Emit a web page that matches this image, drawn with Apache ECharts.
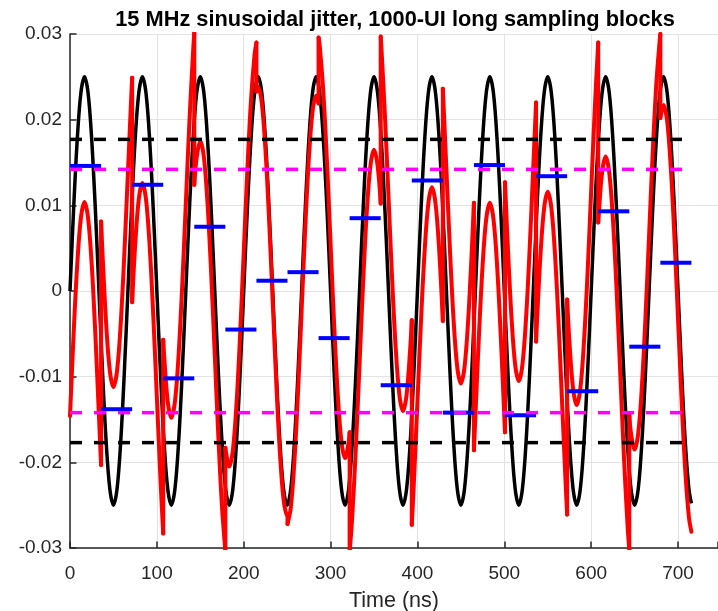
<!DOCTYPE html>
<html><head><meta charset="utf-8">
<script src="https://cdn.jsdelivr.net/npm/echarts@6/dist/echarts.min.js"></script>
<style>html,body{margin:0;padding:0;background:#fff}#c{width:718px;height:611px}</style>
</head><body><div id="c"></div>
<script>
const titleText = '15 MHz sinusoidal jitter, 1000-UI long sampling blocks';
const xAxisName = 'Time (ns)';
const xTickValues = [0, 100, 200, 300, 400, 500, 600, 700];

// sample spacing of the traces (ns)
const sampleStep = 4.166667;

// black: applied 15 MHz sinusoidal jitter (UI)
const sineWave = [
  0, 0.00957, 0.01768, 0.0231, 0.025, 0.0231, 0.01768, 0.00957, 0, -0.00957, -0.01768, -0.0231, -0.025, -0.0231, -0.01768, -0.00957,
  0, 0.00957, 0.01768, 0.0231, 0.025, 0.0231, 0.01768, 0.00957, 0, -0.00957, -0.01768, -0.0231, -0.025, -0.0231, -0.01768, -0.00957,
  0, 0.00957, 0.01768, 0.0231, 0.025, 0.0231, 0.01768, 0.00957, 0, -0.00957, -0.01768, -0.0231, -0.025, -0.0231, -0.01768, -0.00957,
  0, 0.00957, 0.01768, 0.0231, 0.025, 0.0231, 0.01768, 0.00957, 0, -0.00957, -0.01768, -0.0231, -0.025, -0.0231, -0.01768, -0.00957,
  0, 0.00957, 0.01768, 0.0231, 0.025, 0.0231, 0.01768, 0.00957, 0, -0.00957, -0.01768, -0.0231, -0.025, -0.0231, -0.01768, -0.00957,
  0, 0.00957, 0.01768, 0.0231, 0.025, 0.0231, 0.01768, 0.00957, 0, -0.00957, -0.01768, -0.0231, -0.025, -0.0231, -0.01768, -0.00957,
  0, 0.00957, 0.01768, 0.0231, 0.025, 0.0231, 0.01768, 0.00957, 0, -0.00957, -0.01768, -0.0231, -0.025, -0.0231, -0.01768, -0.00957,
  0, 0.00957, 0.01768, 0.0231, 0.025, 0.0231, 0.01768, 0.00957, 0, -0.00957, -0.01768, -0.0231, -0.025, -0.0231, -0.01768, -0.00957,
  0, 0.00957, 0.01768, 0.0231, 0.025, 0.0231, 0.01768, 0.00957, 0, -0.00957, -0.01768, -0.0231, -0.025, -0.0231, -0.01768, -0.00957,
  0, 0.00957, 0.01768, 0.0231, 0.025, 0.0231, 0.01768, 0.00957, 0, -0.00957, -0.01768, -0.0231, -0.025, -0.0231, -0.01768, -0.00957,
  0, 0.00957, 0.01768, 0.0231, 0.025, 0.0231, 0.01768, 0.00957, 0, -0.00957, -0.01768, -0.0231
];
const sineEndValue = -0.0248;

// 1000-UI sampling block edges (ns)
const blockEdges = [0, 35.77, 71.54, 107.31, 143.08, 178.85, 214.62, 250.39, 286.16, 321.93, 357.7,
  393.47, 429.24, 465.01, 500.78, 536.55, 572.32, 608.09, 643.86, 679.63, 715.4];

// blue: block averages
const blockMeans = [0.0146, -0.0138, 0.0124, -0.0102, 0.0075, -0.0045, 0.0012, 0.0022, -0.0055, 0.0085,
  -0.0110, 0.0129, -0.0142, 0.0147, -0.0145, 0.0134, -0.0117, 0.0093, -0.0065, 0.0033];

// red: residual jitter, samples inside each block
const residualByBlock = [
  [-0.0146, -0.0050, 0.0031, 0.0085, 0.0104, 0.0085, 0.0031, -0.0050, -0.0146],
  [0.0042, -0.0039, -0.0093, -0.0112, -0.0093, -0.0039, 0.0042, 0.0138, 0.0234],
  [0.0053, 0.0107, 0.0126, 0.0107, 0.0053, -0.0028, -0.0124, -0.0220],
  [-0.0075, -0.0129, -0.0148, -0.0129, -0.0075, 0.0006, 0.0102, 0.0198, 0.0279],
  [0.0156, 0.0175, 0.0156, 0.0102, 0.0021, -0.0075, -0.0171, -0.0252],
  [-0.0186, -0.0205, -0.0186, -0.0132, -0.0051, 0.0045, 0.0141, 0.0222, 0.0276],
  [0.0238, 0.0219, 0.0165, 0.0084, -0.0012, -0.0108, -0.0189, -0.0243, -0.0262],
  [-0.0253, -0.0199, -0.0118, -0.0022, 0.0074, 0.0155, 0.0209, 0.0228],
  [0.0286, 0.0232, 0.0151, 0.0055, -0.0041, -0.0122, -0.0176, -0.0195, -0.0176],
  [-0.0262, -0.0181, -0.0085, 0.0011, 0.0092, 0.0146, 0.0165, 0.0146],
  [0.0287, 0.0206, 0.0110, 0.0014, -0.0067, -0.0121, -0.0140, -0.0121, -0.0067],
  [-0.0225, -0.0129, -0.0033, 0.0048, 0.0102, 0.0121, 0.0102, 0.0048, -0.0033],
  [0.0142, 0.0046, -0.0035, -0.0089, -0.0108, -0.0089, -0.0035, 0.0046],
  [-0.0147, -0.0051, 0.0030, 0.0084, 0.0103, 0.0084, 0.0030, -0.0051, -0.0147],
  [0.0049, -0.0032, -0.0086, -0.0105, -0.0086, -0.0032, 0.0049, 0.0145],
  [-0.0038, 0.0043, 0.0097, 0.0116, 0.0097, 0.0043, -0.0038, -0.0134, -0.0230],
  [-0.0060, -0.0114, -0.0133, -0.0114, -0.0060, 0.0021, 0.0117, 0.0213],
  [0.0084, 0.0138, 0.0157, 0.0138, 0.0084, 0.0003, -0.0093, -0.0189, -0.0270],
  [-0.0166, -0.0185, -0.0166, -0.0112, -0.0031, 0.0065, 0.0161, 0.0242, 0.0296],
  [0.0217, 0.0198, 0.0144, 0.0063, -0.0033, -0.0129, -0.0210, -0.0264]
];
// red value at the start edge of blocks 1..19 and at the end edge of blocks 0..19
const residualBlockStart = [null, 0.0081, -0.0013, -0.0057, 0.0124, -0.0183, 0.0233, -0.0272, 0.0296, -0.0305,
  0.0297, -0.0273, 0.0236, -0.0186, 0.0127, -0.0059, -0.0010, 0.0080, -0.0144, 0.0202];
const residualBlockEnd = [-0.0203, 0.0249, -0.0283, 0.0301, -0.0303, 0.0290, -0.0262, 0.0219, -0.0165, 0.0102,
  -0.0034, -0.0035, 0.0103, -0.0165, 0.0220, -0.0261, 0.0290, -0.0302, 0.0300, -0.0281];

// dashed reference levels
const rmsLevel = 0.0177;      // black dashed
const residualLevel = 0.0142; // magenta dashed

const FONT = 'Liberation Sans, Arial, sans-serif';
const AXC = '#262626';
const SMOOTH = 0.34;

const blackData = sineWave.map((v, i) => [i * sampleStep, v]);
blackData.push([blockEdges[blockEdges.length - 1], sineEndValue]);

const redStyle = { color: '#ff0000', width: 4, cap: 'round', join: 'round' };
const series = [
  { type: 'line', data: blackData, symbol: 'none', smooth: SMOOTH, lineStyle: { color: '#000000', width: 3.5 } }
];

// red trace: one smooth piece per block, plus the vertical step at each block edge
let k = 0;
residualByBlock.forEach((vals, j) => {
  const piece = [];
  if (j > 0) piece.push([blockEdges[j], residualBlockStart[j]]);
  vals.forEach(v => { piece.push([k * sampleStep, v]); k++; });
  piece.push([blockEdges[j + 1], residualBlockEnd[j]]);
  series.push({ type: 'line', data: piece, symbol: 'none', smooth: SMOOTH, lineStyle: redStyle });
  if (j > 0) {
    series.push({ type: 'line', data: [[blockEdges[j], residualBlockEnd[j - 1]], [blockEdges[j], residualBlockStart[j]]],
      symbol: 'none', lineStyle: redStyle });
  }
});

blockMeans.forEach((m, j) => {
  series.push({ type: 'line', data: [[blockEdges[j], m], [blockEdges[j + 1], m]], symbol: 'none',
    lineStyle: { color: '#0000ff', width: 4, cap: 'butt' } });
});

const tEnd = blockEdges[blockEdges.length - 1];
function levelLine(y, color) {
  return { type: 'line', data: [[0, y], [tEnd, y]], symbol: 'none', silent: true,
    lineStyle: { color, width: 3.5, type: [12, 12], cap: 'butt' } };
}
series.push(levelLine(rmsLevel, '#000000'), levelLine(-rmsLevel, '#000000'));
series.push(levelLine(residualLevel, '#ff00ff'), levelLine(-residualLevel, '#ff00ff'));

const chart = echarts.init(document.getElementById('c'), null, { renderer: 'canvas' });
chart.setOption({
  animation: false,
  backgroundColor: '#ffffff',
  title: {
    text: titleText, left: 390, top: 4, textAlign: 'center',
    textStyle: { fontFamily: FONT, fontSize: 21.8, fontWeight: 'bold', color: '#000' }
  },
  grid: { left: 70, right: 0, top: 34, bottom: 63, containLabel: false, outerBoundsMode: 'none' },
  xAxis: {
    type: 'value', min: 0, max: 746, interval: 100,
    name: xAxisName, nameLocation: 'middle', nameGap: 42,
    nameTextStyle: { fontFamily: FONT, fontSize: 21.5, color: AXC },
    axisLine: { show: true, onZero: false, lineStyle: { color: AXC, width: 1.5 } },
    axisTick: { show: true, inside: true, length: 6.5, lineStyle: { color: AXC, width: 1.5 } },
    axisLabel: { fontFamily: FONT, fontSize: 19, color: AXC, margin: 16,
      formatter: v => (xTickValues.indexOf(v) >= 0 ? String(v) : '') },
    splitLine: { show: true, lineStyle: { color: '#e3e3e3', width: 1 } }
  },
  yAxis: {
    type: 'value', min: -0.03, max: 0.03, interval: 0.01,
    axisLine: { show: true, lineStyle: { color: AXC, width: 1.5 } },
    axisTick: { show: true, inside: true, length: 6.5, lineStyle: { color: AXC, width: 1.5 } },
    axisLabel: { fontFamily: FONT, fontSize: 19, color: AXC, margin: 8 },
    splitLine: { show: true, lineStyle: { color: '#e3e3e3', width: 1 } }
  },
  series
});
</script>
</body></html>
